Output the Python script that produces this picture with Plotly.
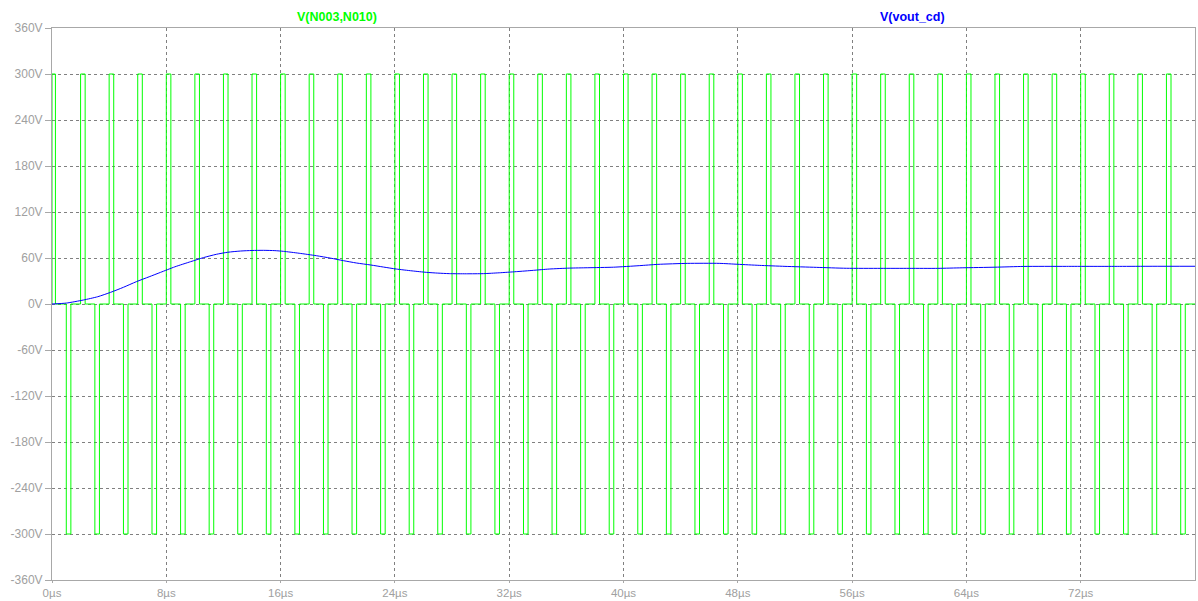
import plotly.graph_objects as go

# Bridge output voltage V(N003,N010): +300 V pulses each 2 µs, -300 V pulses offset by 1 µs
pos_pulse_start_us = [0.0, 2.0, 4.0, 6.0, 8.0, 10.0, 12.0, 14.0, 16.0, 18.0,
                      20.0, 22.0, 24.0, 26.0, 28.0, 30.0, 32.0, 34.0, 36.0, 38.0,
                      40.0, 42.0, 44.0, 46.0, 48.0, 50.0, 52.0, 54.0, 56.0, 58.0,
                      60.0, 62.0, 64.0, 66.0, 68.0, 70.0, 72.0, 74.0, 76.0, 78.0]
pos_pulse_width_us = [0.24] + [0.32] * 39
neg_pulse_start_us = [1.0, 3.0, 5.0, 7.0, 9.0, 11.0, 13.0, 15.0, 17.0, 19.0,
                      21.0, 23.0, 25.0, 27.0, 29.0, 31.0, 33.0, 35.0, 37.0, 39.0,
                      41.0, 43.0, 45.0, 47.0, 49.0, 51.0, 53.0, 55.0, 57.0, 59.0,
                      61.0, 63.0, 65.0, 67.0, 69.0, 71.0, 73.0, 75.0, 77.0, 79.0]
neg_pulse_width_us = [0.32] * 40
pulse_level_v = 300.0

# Output voltage V(vout_cd)
vout_t_us = [0.0, 1.0, 2.2, 3.2, 4.1, 5.0, 5.9, 6.8, 7.6, 8.6, 9.7, 10.6, 11.5, 12.3,
             13.2, 14.0, 14.8, 15.6, 16.2, 17.3, 18.5, 19.5, 20.4, 21.3, 22.3,
             23.2, 24.1, 25.2, 26.2, 27.0, 27.8, 29.0, 30.2, 31.3, 32.5, 33.7,
             34.8, 36.2, 37.5, 39.3, 41.1, 42.4, 44.5, 46.7, 48.0, 49.5, 51.3,
             53.5, 55.6, 58.0, 60.0, 62.0, 63.7, 66.0, 68.0, 71.0, 74.7, 77.0, 80.0]
vout_v = [0.0, 1.2, 5.2, 9.5, 15.2, 21.8, 29.1, 35.5, 41.3, 48.5, 55.2, 60.5, 64.8, 67.5,
          69.1, 69.8, 70.0, 69.6, 68.7, 66.2, 63.0, 59.8, 56.5, 53.5, 50.9,
          48.2, 45.6, 43.2, 41.3, 40.3, 39.6, 39.4, 39.6, 40.7, 42.2, 43.9,
          45.6, 46.8, 47.3, 48.0, 50.0, 51.7, 53.0, 53.0, 51.8, 50.4, 49.1,
          47.8, 46.6, 46.5, 46.5, 46.5, 47.2, 48.0, 49.0, 49.1, 49.1, 49.2, 49.2]

x_ticks_us = [0, 8, 16, 24, 32, 40, 48, 56, 64, 72]
x_tick_text = ["0µs", "8µs", "16µs", "24µs", "32µs", "40µs", "48µs", "56µs", "64µs", "72µs"]
y_ticks_v = [-360, -300, -240, -180, -120, -60, 0, 60, 120, 180, 240, 300, 360]
y_tick_text = ["-360V", "-300V", "-240V", "-180V", "-120V", "-60V", "0V",
               "60V", "120V", "180V", "240V", "300V", "360V"]

# Assemble the stepped bridge waveform from the pulse edges
events = []
for t0, w in zip(pos_pulse_start_us, pos_pulse_width_us):
    events.append((t0, w, pulse_level_v))
for t0, w in zip(neg_pulse_start_us, neg_pulse_width_us):
    events.append((t0, w, -pulse_level_v))
events.sort()
bx, by = [0.0], [0.0]
for t0, w, lvl in events:
    bx += [t0, t0, t0 + w, t0 + w]
    by += [0.0, lvl, lvl, 0.0]
bx.append(80.0)
by.append(0.0)

GREEN = "#00ff00"
BLUE = "#0000ff"
GRAY_TXT = "#a0a0a0"
FONT = "Liberation Sans"

ML, MR, MT, MB = 52, 3, 28, 21
W, H = 1198, 601

fig = go.Figure()
fig.add_trace(go.Scatter(x=bx, y=by, mode="lines",
                         line=dict(color=GREEN, width=1), hoverinfo="skip"))
fig.add_trace(go.Scatter(x=vout_t_us, y=vout_v, mode="lines",
                         line=dict(color=BLUE, width=1, shape="spline", smoothing=0.6),
                         hoverinfo="skip"))

axis_common = dict(
    showline=True, linecolor="#a8a8a8", linewidth=1, mirror=True,
    showgrid=True, gridcolor="#808080", gridwidth=1, griddash="3px,3px",
    zeroline=False, ticks="outside", tickcolor="#a8a8a8",
    fixedrange=True, automargin=False,
)

fig.update_layout(
    width=W, height=H,
    margin=dict(l=ML, r=MR, t=MT, b=MB, autoexpand=False),
    paper_bgcolor="white", plot_bgcolor="white",
    showlegend=False,
    xaxis=dict(range=[0, 80], tickmode="array", tickvals=x_ticks_us,
               ticktext=x_tick_text, ticklen=2,
               tickfont=dict(family=FONT, size=11.5, color=GRAY_TXT), **axis_common),
    yaxis=dict(range=[-360, 360], tickmode="array", tickvals=y_ticks_v,
               ticktext=y_tick_text, ticklen=6,
               tickfont=dict(family=FONT, size=12, color=GRAY_TXT), **axis_common),
)

# trace titles above the plot area, positioned in pixels
plot_w = W - ML - MR
plot_h = H - MT - MB
for text, px, py, color in [("V(N003,N010)", 295, 17, GREEN),
                            ("V(vout_cd)", 878, 17, BLUE)]:
    fig.add_annotation(text=f"<b>{text}</b>", showarrow=False,
                       x=(px - ML) / plot_w, y=(H - MB - py) / plot_h,
                       xref="paper", yref="paper", xanchor="left", yanchor="middle",
                       font=dict(family=FONT, size=12.5, color=color))

fig.write_html("out.html")
